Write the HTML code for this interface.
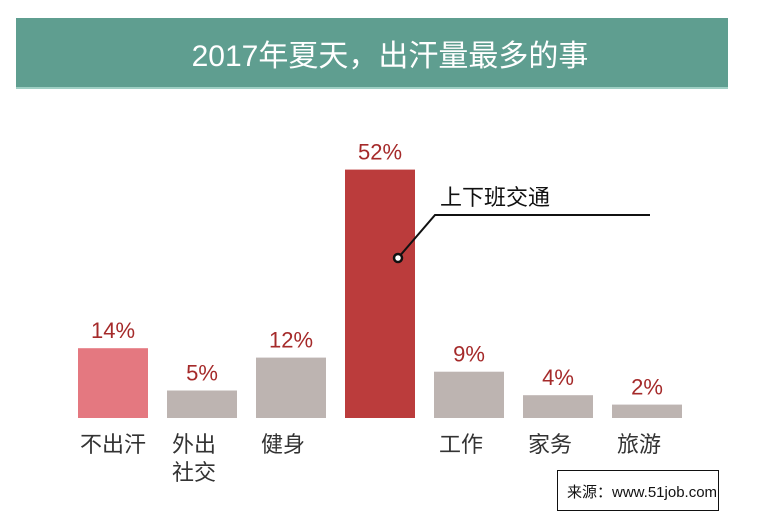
<!DOCTYPE html>
<html><head><meta charset="utf-8"><style>
body{margin:0;width:776px;height:524px;background:#fff;overflow:hidden;font-family:"Liberation Sans","Noto Sans CJK SC",sans-serif}
</style></head><body>
<svg width="776" height="524" style="position:absolute;left:0;top:0">
<rect x="16" y="18" width="712" height="70" fill="#5f9e90"/>
<rect x="16" y="87" width="712" height="2" fill="#9fcfc4"/>
<text x="390" y="66" text-anchor="middle" font-size="30" fill="#fff" font-family="Liberation Sans,Noto Sans CJK SC,sans-serif">2017年夏天，出汗量最多的事</text>
<g id="bars"></g>
<polyline points="398,258 435,215 650,215" fill="none" stroke="#111" stroke-width="2"/>
<circle cx="398" cy="258" r="4" fill="#fff" stroke="#111" stroke-width="2.5"/>
<text x="440" y="205" font-size="22" fill="#111">上下班交通</text>
<rect x="557.5" y="470.5" width="161" height="40" fill="#fff" stroke="#111"/>
<text x="567" y="497" font-size="15" fill="#111">来源：www.51job.com</text>
</svg>
<script>
const categories=[["不出汗"],["外出","社交"],["健身"],[""],["工作"],["家务"],["旅游"]];
const values=[14,5,12,52,9,4,2];
const colors=["#e47880","#bdb4b1","#bdb4b1","#bb3c3c","#bdb4b1","#bdb4b1","#bdb4b1"];
const NS="http://www.w3.org/2000/svg";
const g=document.getElementById("bars");
const base=418,x0=78,step=89,bw=70;
function y(v){return base-(4+4.7*v);}
function mk(t,a){const e=document.createElementNS(NS,t);for(const k in a)e.setAttribute(k,a[k]);return e;}
values.forEach((v,i)=>{
 const x=x0+i*step;
 const r=mk("rect",{x:x,y:y(v),width:bw,height:base-y(v),fill:colors[i]});
 
 
 g.appendChild(r);
 const t=mk("text",{x:x+bw/2,y:y(v)-10,"text-anchor":"middle","font-size":"22",fill:"#a52a2a"});
 t.textContent=v+"%";
 
 
 g.appendChild(t);
 categories[i].forEach((s,j)=>{
  const c=mk("text",{x:x+(i==0?bw/2:bw/2-8),y:452+j*28,"text-anchor":"middle","font-size":"22",fill:"#333"});
  c.textContent=s;
  
  
  g.appendChild(c);
 });
});
</script>
</body></html>
